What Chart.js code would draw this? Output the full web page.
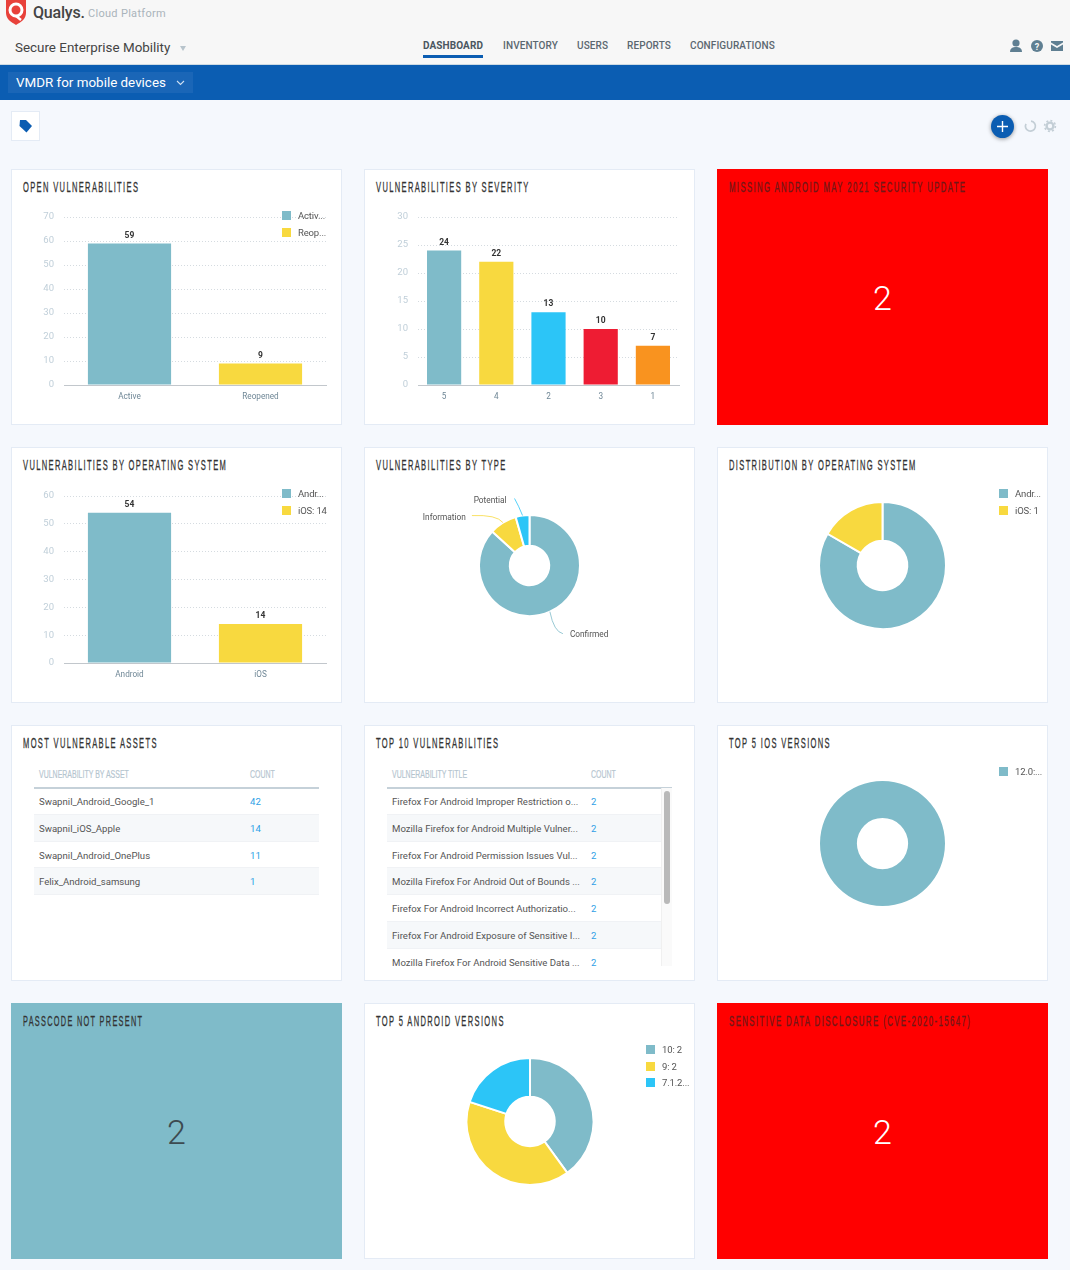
<!DOCTYPE html>
<html>
<head>
<meta charset="utf-8">
<title>VMDR for mobile devices</title>
<script src="https://cdn.jsdelivr.net/npm/chart.js@4/dist/chart.umd.min.js"></script>
<style>
* { box-sizing: border-box; }
html, body { margin: 0; padding: 0; }
body { width: 1070px; height: 1270px; position: relative; overflow: hidden; background: #f5f8fd; font-family: Roboto, sans-serif; color: #444; }
.abs { position: absolute; white-space: nowrap; }
#top { left: 0; top: 0; width: 1070px; height: 65px; background: #f7f7f7; border-bottom: 1px solid #cfdbe3; }
#bar { left: 0; top: 65px; width: 1070px; height: 35px; background: #0b5db2; }
#barbox { left: 8px; top: 7px; width: 185px; height: 21px; background: #1a66b7; }
.tab { top: 40px; font-size: 10px; font-weight: 500; letter-spacing: .1px; color: #5b6770; line-height: 12px; }
.card { position: absolute; width: 331px; height: 256px; background: #fff; border: 1px solid #e4ebf5; }
.card canvas { position: absolute; left: -1px; top: 0; }
.title { position: absolute; left: 11px; top: 9px; font-family: "Liberation Sans", sans-serif; font-size: 14.5px; line-height: 16px; letter-spacing: 2.6px; color: #333; white-space: nowrap; transform: scaleX(.52); transform-origin: left center; -webkit-text-stroke: .3px; }
.big { position: absolute; left: 0; width: 100%; top: 105px; text-align: center; font-size: 34px; line-height: 46px; font-weight: 300; }
.leg { position: absolute; font-size: 9.5px; line-height: 12px; color: #555; white-space: nowrap; letter-spacing: -.15px; }
.leg i { position: absolute; left: -16px; top: 1px; width: 9px; height: 9px; }
.thead { position: absolute; height: 22px; font-family: "Liberation Sans", sans-serif; font-size: 11px; line-height: 14px; color: #b5c5cf; border-bottom: 2px solid #c5d1d9; width: 285px; }
.thead span { position: absolute; white-space: nowrap; transform: scaleX(.635); transform-origin: left center; -webkit-text-stroke: .2px; }
.row span { position: absolute; white-space: nowrap; }
.rows { position: absolute; width: 285px; overflow: hidden; }
.row { position: relative; height: 26.8px; font-size: 9.6px; line-height: 27px; color: #555; border-bottom: 1px solid #f0f2f5; }
.row.alt { background: #f6f8fa; }
.row b { position: absolute; font-weight: 400; color: #2e9fe6; }
</style>
</head>
<body>
<div id="top" class="abs"></div>
<svg class="abs" style="left:5px;top:0" width="22" height="25" viewBox="0 0 22 25"><path d="M1 0h20v13c0 6-5 9-10 12C6 22 1 19 1 13z" fill="#e8413a"/><circle cx="11" cy="10" r="6" fill="none" stroke="#fff" stroke-width="3"/><path d="M11 16l5 4" stroke="#fff" stroke-width="2.4"/></svg>
<div class="abs" style="left:33px;top:2px;font-size:16px;line-height:22px;font-weight:500;color:#444;letter-spacing:-.2px">Qualys.</div>
<div class="abs" style="left:88px;top:7px;font-size:11px;line-height:14px;color:#aab4bb;letter-spacing:.3px">Cloud Platform</div>
<div class="abs" style="left:15px;top:39px;font-size:13.4px;line-height:17px;color:#444">Secure Enterprise Mobility</div>
<div class="abs" style="left:180px;top:46px;width:0;height:0;border-left:3px solid transparent;border-right:3px solid transparent;border-top:5px solid #b8c4cc"></div>
<div class="abs tab" style="left:423px;font-weight:700;color:#4a5660">DASHBOARD</div>
<div class="abs" style="left:423px;top:55px;width:60px;height:3px;background:#0b5db2"></div>
<div class="abs tab" style="left:503px">INVENTORY</div>
<div class="abs tab" style="left:577px">USERS</div>
<div class="abs tab" style="left:627px">REPORTS</div>
<div class="abs tab" style="left:690px">CONFIGURATIONS</div>
<svg class="abs" style="left:1008px;top:39px" width="56" height="14" viewBox="0 0 56 14" fill="#5f7f92"><circle cx="8" cy="4" r="3.6"/><path d="M2 13c0-4 3-5 6-5s6 1 6 5z"/><circle cx="29" cy="7" r="6"/><text x="29" y="10.5" font-size="9" font-weight="700" text-anchor="middle" fill="#f7f7f7" font-family="Roboto">?</text><path d="M43 2h12v1.5l-6 3.5-6-3.5zM43 5.5l6 3.5 6-3.5V12H43z"/></svg>
<div id="bar" class="abs"><div id="barbox" class="abs"></div>
<div class="abs" style="left:16px;top:9px;font-size:13.4px;line-height:17px;color:#fff">VMDR for mobile devices</div>
<svg class="abs" style="left:176px;top:15px" width="9" height="6"><path d="M1 1l3.5 3.5L8 1" fill="none" stroke="#cfe0f2" stroke-width="1.1"/></svg></div>
<div class="abs" style="left:11px;top:111px;width:29px;height:30px;background:#fff;border:1px solid #e4ebf5"></div>
<svg class="abs" style="left:19px;top:120px" width="13" height="13" viewBox="0 0 13 13"><path d="M1 0h6l6 6-5.5 6.5L.5 6z" fill="#0b5db2"/></svg>
<div class="abs" style="left:991px;top:115px;width:23px;height:23px;border-radius:50%;background:#0b5db2;box-shadow:0 1px 4px rgba(0,0,0,.4)"></div>
<svg class="abs" style="left:996px;top:120px" width="13" height="13"><path d="M6.5 1v11M1 6.5h11" stroke="#fff" stroke-width="1.4"/></svg>
<svg class="abs" style="left:1023px;top:119px" width="34" height="14" viewBox="0 0 34 14" fill="none" stroke="#c3ced6" stroke-width="1.7"><path d="M8 2.2a5 5 0 1 1-5 2.6"/><circle cx="27" cy="7" r="3.4" stroke-width="2.4"/><circle cx="27" cy="7" r="5.4" stroke-width="1.6" stroke-dasharray="2 2.2"/></svg>

<script>
const openLabels = ['Active', 'Reopened'];
const openValues = [59, 9];
const openTicks = [0, 10, 20, 30, 40, 50, 60, 70];
const openLegend = ['Activ...', 'Reop...'];

const severityLabels = ['5', '4', '2', '3', '1'];
const severityValues = [24, 22, 13, 10, 7];
const severityTicks = [0, 5, 10, 15, 20, 25, 30];

const osLabels = ['Android', 'iOS'];
const osValues = [54, 14];
const osTicks = [0, 10, 20, 30, 40, 50, 60];
const osLegend = ['Andr...', 'iOS: 14'];

const typeLabels = ['Confirmed', 'Information', 'Potential'];
const typeValues = [59, 6, 3];

const distLabels = ['Android', 'iOS'];
const distValues = [5, 1];
const distLegend = ['Andr...', 'iOS: 1'];

const iosLabels = ['12.0'];
const iosValues = [1];
const iosLegend = ['12.0:...'];

const androidLabels = ['10', '9', '7.1.2'];
const androidValues = [2, 2, 1];
const androidLegend = ['10: 2', '9: 2', '7.1.2...'];

const assetNames = ['Swapnil_Android_Google_1', 'Swapnil_iOS_Apple', 'Swapnil_Android_OnePlus', 'Felix_Android_samsung'];
const assetCounts = [42, 14, 11, 1];

const vulnTitles = [
    'Firefox For Android Improper Restriction o...',
    'Mozilla Firefox for Android Multiple Vulner...',
    'Firefox For Android Permission Issues Vul...',
    'Mozilla Firefox For Android Out of Bounds ...',
    'Firefox For Android Incorrect Authorizatio...',
    'Firefox For Android Exposure of Sensitive I...',
    'Mozilla Firefox For Android Sensitive Data ...'
];
const vulnCounts = [2, 2, 2, 2, 2, 2, 2];

const TEAL = '#7fbbc9', YELLOW = '#f8d93f', CYAN = '#2cc5f7', RED = '#ee1c33', ORANGE = '#f9931f';
const palette = [TEAL, YELLOW, CYAN, RED, ORANGE];

const colX = [11, 364, 717];
const rowY = [169, 447, 725, 1003];

function addCard(col, row, title, bg, titleColor, titleScale) {
    const card = document.createElement('div');
    card.className = 'card';
    card.style.left = colX[col] + 'px';
    card.style.top = rowY[row] + 'px';
    if (bg) {
        card.style.background = bg;
        card.style.borderColor = bg;
    }
    const t = document.createElement('div');
    t.className = 'title';
    t.textContent = title;
    if (titleColor) t.style.color = titleColor;
    if (titleScale) t.style.transform = 'scaleX(' + titleScale + ')';
    card.appendChild(t);
    document.body.appendChild(card);
    return card;
}

function addCanvas(card) {
    const c = document.createElement('canvas');
    c.width = 330;
    c.height = 254;
    c.style.width = '330px';
    c.style.height = '254px';
    card.appendChild(c);
    return c.getContext('2d');
}

function addLegend(card, x, y, step, names) {
    names.forEach((name, i) => {
        const l = document.createElement('div');
        l.className = 'leg';
        l.style.left = x + 'px';
        l.style.top = (y + i * step) + 'px';
        const sw = document.createElement('i');
        sw.style.background = palette[i];
        l.appendChild(sw);
        l.appendChild(document.createTextNode(name));
        card.appendChild(l);
    });
}

function addBig(card, value, color) {
    const b = document.createElement('div');
    b.className = 'big';
    b.textContent = value;
    b.style.color = color;
    card.appendChild(b);
}

function addTable(card, left, heads, headCountX, names, counts, textX, visibleHeight) {
    const head = document.createElement('div');
    head.className = 'thead';
    head.style.left = left + 'px';
    head.style.top = '41px';
    head.innerHTML = '<span style="left:' + textX + 'px">' + heads[0] + '</span><span style="left:' + headCountX + 'px">' + heads[1] + '</span>';
    card.appendChild(head);
    const rows = document.createElement('div');
    rows.className = 'rows';
    rows.style.left = left + 'px';
    rows.style.top = '62px';
    rows.style.height = visibleHeight + 'px';
    names.forEach((name, i) => {
        const r = document.createElement('div');
        r.className = i % 2 ? 'row alt' : 'row';
        const n = document.createElement('span');
        n.style.left = textX + 'px';
        n.textContent = name;
        const c = document.createElement('b');
        c.style.left = headCountX + 'px';
        c.textContent = counts[i];
        r.appendChild(n);
        r.appendChild(c);
        rows.appendChild(r);
    });
    card.appendChild(rows);
}

// draws the number above each bar
const barValues = {
    id: 'barValues',
    afterDatasetsDraw(chart) {
        const ctx = chart.ctx;
        const meta = chart.getDatasetMeta(0);
        ctx.save();
        ctx.font = '700 8.5px Roboto';
        ctx.fillStyle = '#333';
        ctx.textAlign = 'center';
        ctx.textBaseline = 'middle';
        meta.data.forEach((el, i) => {
            ctx.fillText(chart.data.datasets[0].data[i], el.x, el.y - 8);
        });
        ctx.restore();
    }
};

// curved leader lines and slice names for the doughnut
const sliceCallouts = {
    id: 'sliceCallouts',
    afterDatasetsDraw(chart, args, opts) {
        const ctx = chart.ctx;
        const arcs = chart.getDatasetMeta(0).data;
        ctx.save();
        ctx.font = '8.3px Roboto';
        ctx.textBaseline = 'middle';
        arcs.forEach((arc, i) => {
            const mid = (arc.startAngle + arc.endAngle) / 2;
            const sx = arc.x + Math.cos(mid) * arc.outerRadius;
            const sy = arc.y + Math.sin(mid) * arc.outerRadius;
            const o = opts.offsets[i];
            ctx.strokeStyle = palette[i];
            ctx.lineWidth = 0.8;
            ctx.beginPath();
            ctx.moveTo(sx, sy);
            ctx.quadraticCurveTo(sx + o.cx, sy + o.cy, sx + o.ex, sy + o.ey);
            ctx.stroke();
            ctx.fillStyle = '#555';
            ctx.textAlign = o.ex > 0 ? 'left' : 'right';
            const gap = o.ex > 0 ? 8 : -6;
            ctx.fillText(chart.data.labels[i], sx + o.ex + gap + o.tx, sy + o.ey + o.ty);
        });
        ctx.restore();
    }
};

function makeBar(card, labels, values, ticks, colors, plot) {
    return new Chart(addCanvas(card), {
        type: 'bar',
        data: {
            labels: labels,
            datasets: [{
                data: values,
                backgroundColor: colors,
                borderWidth: 0,
                barPercentage: 1,
                categoryPercentage: plot.barShare
            }]
        },
        options: {
            responsive: false,
            animation: false,
            layout: { padding: { left: 0, top: plot.top, right: plot.right, bottom: 0 } },
            plugins: { legend: { display: false }, tooltip: { enabled: false } },
            scales: {
                x: {
                    afterFit(scale) { scale.height = plot.bottom; },
                    grid: { display: false, drawTicks: false },
                    border: { display: true, color: '#c2c7cc', width: 1 },
                    ticks: { color: '#6f8796', font: { family: 'Roboto', size: 8.2 }, padding: 7, maxRotation: 0 }
                },
                y: {
                    min: 0,
                    max: ticks[ticks.length - 1],
                    afterFit(scale) { scale.width = plot.left; },
                    afterBuildTicks(scale) { scale.ticks = ticks.map(v => ({ value: v })); },
                    grid: { color: '#d5dbe0', drawTicks: false },
                    border: { display: false, dash: [1, 2] },
                    ticks: { color: '#c0cfd9', font: { family: 'Roboto', size: 9.5 }, padding: 10 }
                }
            }
        },
        plugins: [barValues]
    });
}

function makeDonut(card, col, row, labels, values, cx, cy, r, cutout, extra) {
    const bw = values.length > 1 ? 2 : 0;
    const size = r + bw;
    const ox = cx - colX[col];
    const oy = cy - rowY[row] - 1;
    const opts = {
        responsive: false,
        animation: false,
        cutout: cutout,
        layout: { padding: { left: ox - size, right: 330 - ox - size, top: oy - size, bottom: 254 - oy - size } },
        plugins: { legend: { display: false }, tooltip: { enabled: false } }
    };
    if (extra) opts.plugins.sliceCallouts = extra;
    return new Chart(addCanvas(card), {
        type: 'doughnut',
        data: {
            labels: labels,
            datasets: [{ data: values, backgroundColor: palette.slice(0, values.length), borderColor: '#fff', borderWidth: bw }]
        },
        options: opts,
        plugins: extra ? [sliceCallouts] : []
    });
}

// row 1
const c1 = addCard(0, 0, 'OPEN VULNERABILITIES');
makeBar(c1, openLabels, openValues, openTicks, [TEAL, YELLOW], { left: 53, top: 47, right: 15, bottom: 39, barShare: 0.635 });
addLegend(c1, 286, 40, 16.5, openLegend);

const c2 = addCard(1, 0, 'VULNERABILITIES BY SEVERITY');
makeBar(c2, severityLabels, severityValues, severityTicks, palette, { left: 54, top: 47, right: 15, bottom: 39, barShare: 0.655 });

const c3 = addCard(2, 0, 'MISSING ANDROID MAY 2021 SECURITY UPDATE', '#ff0000', '#701818', 0.534);
addBig(c3, 2, '#fff');

// row 2
const c4 = addCard(0, 1, 'VULNERABILITIES BY OPERATING SYSTEM');
makeBar(c4, osLabels, osValues, osTicks, [TEAL, YELLOW], { left: 53, top: 48, right: 15, bottom: 39, barShare: 0.635 });
addLegend(c4, 286, 40, 16.5, osLegend);

const c5 = addCard(1, 1, 'VULNERABILITIES BY TYPE');
makeDonut(c5, 1, 1, typeLabels, typeValues, 529.5, 565.5, 49.5, '39%', {
    offsets: [
        { cx: 4, cy: 20, ex: 13, ey: 22, tx: -1, ty: 1 },
        { cx: -6, cy: -8, ex: -31, ey: -7, tx: 0, ty: 2 },
        { cx: -4, cy: -10, ex: -8, ey: -17, tx: -2, ty: 2 }
    ]
});

const c6 = addCard(2, 1, 'DISTRIBUTION BY OPERATING SYSTEM');
makeDonut(c6, 2, 1, distLabels, distValues, 882.5, 565.5, 62.5, '39%');
addLegend(c6, 297, 40, 16.5, distLegend);

// row 3
const c7 = addCard(0, 2, 'MOST VULNERABLE ASSETS');
addTable(c7, 22, ['VULNERABILITY BY ASSET', 'COUNT'], 216, assetNames, assetCounts, 5, 108);

const c8 = addCard(1, 2, 'TOP 10 VULNERABILITIES');
addTable(c8, 22, ['VULNERABILITY TITLE', 'COUNT'], 204, vulnTitles, vulnCounts, 5, 178);
const track = document.createElement('div');
track.style.cssText = 'position:absolute;left:296px;top:62px;width:11px;height:178px;background:#fafafa;border-left:1px solid #f0f0f0';
const thumb = document.createElement('div');
thumb.style.cssText = 'position:absolute;left:299px;top:65px;width:6px;height:113px;border-radius:3px;background:#b9b9b9';
c8.appendChild(track);
c8.appendChild(thumb);

const c9 = addCard(2, 2, 'TOP 5 IOS VERSIONS');
makeDonut(c9, 2, 2, iosLabels, iosValues, 882.5, 843.5, 62.5, '41%');
addLegend(c9, 297, 40, 16.5, iosLegend);

// row 4
const c10 = addCard(0, 3, 'PASSCODE NOT PRESENT', TEAL, '#333', 0.505);
addBig(c10, 2, '#3d4a50');

const c11 = addCard(1, 3, 'TOP 5 ANDROID VERSIONS');
makeDonut(c11, 1, 3, androidLabels, androidValues, 530, 1121.5, 62.5, '39%');
addLegend(c11, 297, 40, 16.5, androidLegend);

const c12 = addCard(2, 3, 'SENSITIVE DATA DISCLOSURE (CVE-2020-15647)', '#ff0000', '#701818', 0.54);
addBig(c12, 2, '#fff');
</script>
</body>
</html>
